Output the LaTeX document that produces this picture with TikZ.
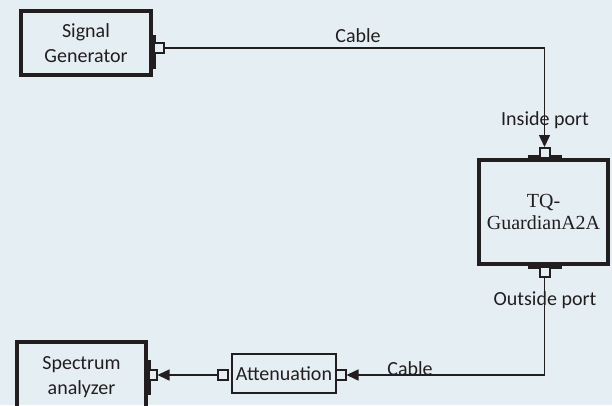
\documentclass[tikz,border=0pt]{standalone}
\usepackage{fontspec}
\setmainfont{Carlito}
\newfontfamily\serifface{Liberation Serif}
\usetikzlibrary{arrows.meta}
\definecolor{bgblue}{RGB}{229,238,242}
\definecolor{ink}{RGB}{34,30,32}

\begin{document}
\begin{tikzpicture}[x=1pt,y=-1pt,
  box/.style={draw=ink,line width=4pt,align=center,inner sep=0pt,text=ink,
    font=\fontsize{20}{25}\selectfont},
  port/.style={draw=ink,line width=2pt,fill=bgblue,minimum size=10pt,inner sep=0pt},
  portbar/.style={draw=ink,line width=6pt},
  cable/.style={draw=ink,line width=1.5pt,-{Triangle[length=12pt,width=11pt]}},
  lbl/.style={font=\fontsize{20}{24}\selectfont,text=ink,inner sep=0pt,anchor=base}]
  \fill[bgblue] (0,0) rectangle (612,405);
  \useasboundingbox (0,0) rectangle (612,405);

  % labels
  \node[lbl] (cabletop) at (358,42) {Cable};
  \node[lbl] (inlbl) at (545,125) {Inside port};
  \node[lbl] (outlbl) at (545,305) {Outside port};
  \node[lbl] (cablebot) at (410,375) {Cable};

  % boxes
  \node[box,minimum width=130pt,minimum height=64pt] (sg) at (86,43) {Signal\\Generator};
  \node[box,minimum width=129pt,minimum height=104pt,
    font=\serifface\fontsize{20}{22}\selectfont] (tq) at (543.5,212) {TQ-\\GuardianA2A};
  \node[box,line width=2.5pt,minimum width=104pt,minimum height=39pt] (att) at (284,373.5) {Attenuation};
  \node[box,minimum width=129pt,minimum height=70pt] (sa) at (81.5,377) {Spectrum\\analyzer};

  % thick bars where the ports sit
  \draw[portbar] ([yshift=8pt]sg.east) -- ([yshift=-26pt]sg.east);
  \draw[portbar] ([xshift=-16pt]tq.north) -- ([xshift=18pt]tq.north);
  \draw[portbar] ([xshift=-16pt]tq.south) -- ([xshift=18pt]tq.south);
  \draw[portbar] ([yshift=17pt]sa.east) -- ([yshift=-18pt]sa.east);

  % ports
  \node[port] (sgport) at (159,48) {};
  \node[port] (tqin) at (544.5,153) {};
  \node[port] (tqout) at (544.5,272) {};
  \node[port] (attin) at (340.5,375) {};
  \node[port] (attout) at (223,375) {};
  \node[port,minimum width=8pt] (saport) at (152.5,375) {};

  % cables
  \draw[cable] (sgport.east) -| (tqin.north);
  \draw[cable] (tqout.south) |- (attin.east);
  \draw[cable] (attout.west) -- (saport.east);
\end{tikzpicture}
\end{document}
